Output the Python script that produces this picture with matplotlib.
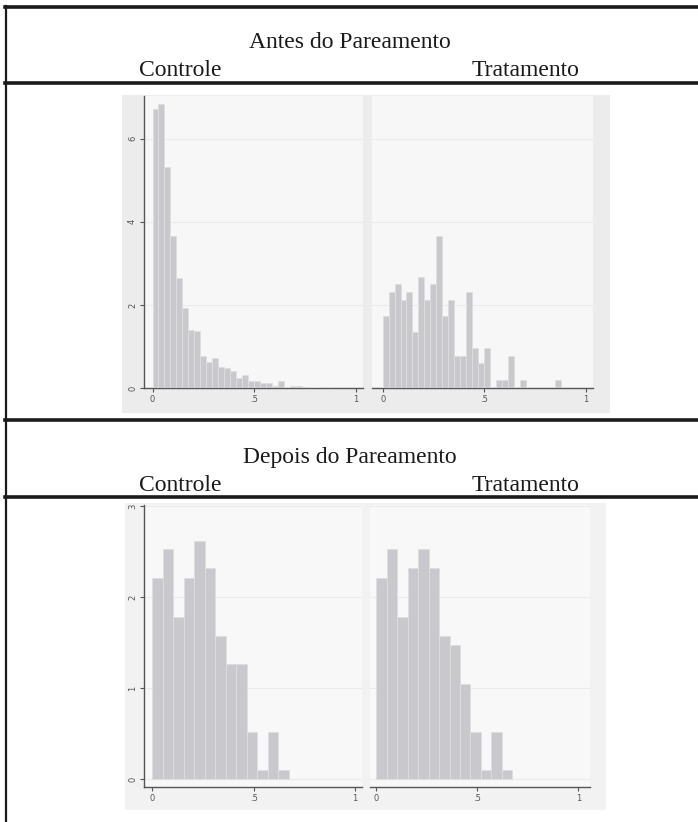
import matplotlib
matplotlib.use('Agg')
import matplotlib.pyplot as plt
from matplotlib.patches import Rectangle
from matplotlib.lines import Line2D

# table texts
titulo_antes = 'Antes do Pareamento'
titulo_depois = 'Depois do Pareamento'
grupos = ['Controle', 'Tratamento']

# histogram bins (density)
antes_w = 0.0293
antes_controle = [6.72, 6.83, 5.32, 3.65, 2.65, 1.92, 1.40, 1.38, 0.79, 0.63,
                  0.73, 0.51, 0.49, 0.41, 0.24, 0.32, 0.17, 0.17, 0.14, 0.14,
                  0.06, 0.17, 0.04, 0.06, 0.06, 0.0, 0.04, 0.04, 0.0, 0.04]
antes_tratamento = [1.75, 2.32, 2.52, 2.12, 2.32, 1.35, 2.68, 2.12, 2.52, 3.66,
                    1.75, 2.12, 0.77, 0.77, 2.32, 0.97, 0.61, 0.97, 0.0, 0.21,
                    0.21, 0.77, 0.0, 0.21, 0.0, 0.0, 0.0, 0.0, 0.0, 0.21]

depois_w = 0.0517
depois_controle = [2.21, 2.53, 1.78, 2.21, 2.62, 2.32, 1.57, 1.26, 1.26, 0.52,
                   0.10, 0.52, 0.10]
depois_tratamento = [2.21, 2.53, 1.78, 2.32, 2.53, 2.32, 1.57, 1.47, 1.04, 0.52,
                     0.10, 0.52, 0.10]

xticks = [0, 0.5, 1]
xlabels = ['0', '.5', '1']
yticks_antes = [0, 2, 4, 6]
yticks_depois = [0, 1, 2, 3]

W, H = 698, 822
fig = plt.figure(figsize=(W / 100, H / 100), dpi=100)
fig.patch.set_facecolor('white')


def box(x0, y0, x1, y1):
    # pixel box (top-down) -> figure fraction
    return [x0 / W, 1 - y1 / H, (x1 - x0) / W, (y1 - y0) / H]


def rect(x0, y0, x1, y1, color):
    fig.add_artist(Rectangle((x0 / W, 1 - y1 / H), (x1 - x0) / W, (y1 - y0) / H,
                             transform=fig.transFigure, facecolor=color,
                             edgecolor='none', zorder=0))


def hline(y, lw=2.6):
    fig.add_artist(Line2D([5 / W, 1], [1 - y / H, 1 - y / H], color='#1a1a1a',
                          lw=lw, transform=fig.transFigure, zorder=5))


def panel(pos, heights, w, xlim, ylim, yticks, show_y, bg):
    ax = fig.add_axes(box(*pos))
    ax.set_facecolor(bg)
    edges = [i * w for i in range(len(heights))]
    ax.bar(edges, heights, width=w, align='edge', color='#c9c9cd',
           edgecolor='#dedede', linewidth=0.6, zorder=3)
    ax.set_xlim(*xlim)
    ax.set_ylim(*ylim)
    ax.set_xticks(xticks)
    ax.set_xticklabels(xlabels)
    ax.set_yticks(yticks)
    for t in yticks:
        ax.axhline(t, color='#ebebeb', lw=0.8, zorder=1)
    ax.tick_params(axis='both', labelsize=6, colors='#555555', length=3,
                   width=0.8, pad=2)
    ax.tick_params(axis='y', labelrotation=90)
    for s in ['top', 'right']:
        ax.spines[s].set_visible(False)
    ax.spines['bottom'].set_color('#555555')
    ax.spines['bottom'].set_linewidth(1.0)
    if show_y:
        ax.spines['left'].set_color('#555555')
        ax.spines['left'].set_linewidth(1.0)
        for lab in ax.get_yticklabels():
            lab.set_va('center')
    else:
        ax.spines['left'].set_visible(False)
        ax.tick_params(axis='y', left=False, labelleft=False)
    return ax


# graph image backgrounds
rect(122, 95, 610, 413, '#ececec')
rect(125, 503, 606, 810, '#f2f2f2')

# antes
panel((144, 96, 362.7, 388.5), antes_controle, antes_w, (-0.0418, 1.033),
      (0.0, 7.02), yticks_antes, True, '#f7f7f7')
panel((371.7, 96, 592.7, 388.5), antes_tratamento, antes_w, (-0.054, 1.034),
      (0.0, 7.02), yticks_antes, False, '#f7f7f7')

# depois
panel((144, 505, 362, 787), depois_controle, depois_w, (-0.041, 1.034),
      (-0.088, 3.01), yticks_depois, True, '#f8f8f8')
panel((370, 505, 590, 787), depois_tratamento, depois_w, (-0.032, 1.058),
      (-0.088, 3.01), yticks_depois, False, '#f8f8f8')

# table lines
hline(7)
hline(83)
hline(420)
hline(497)
fig.add_artist(Line2D([6 / W, 6 / W], [1 - 6 / H, 0], color='#1a1a1a', lw=1.6,
                      transform=fig.transFigure, zorder=5))

serif = dict(family='Liberation Serif', fontsize=17, color='#1a1a1a',
             ha='center', va='center')
fig.text(350 / W, 1 - 43 / H, titulo_antes, **serif)
fig.text(180 / W, 1 - 70 / H, grupos[0], **serif)
fig.text(525 / W, 1 - 70 / H, grupos[1], **serif)
fig.text(350 / W, 1 - 457 / H, titulo_depois, **serif)
fig.text(180 / W, 1 - 485 / H, grupos[0], **serif)
fig.text(525 / W, 1 - 485 / H, grupos[1], **serif)

fig.savefig('out.png', dpi=100)
